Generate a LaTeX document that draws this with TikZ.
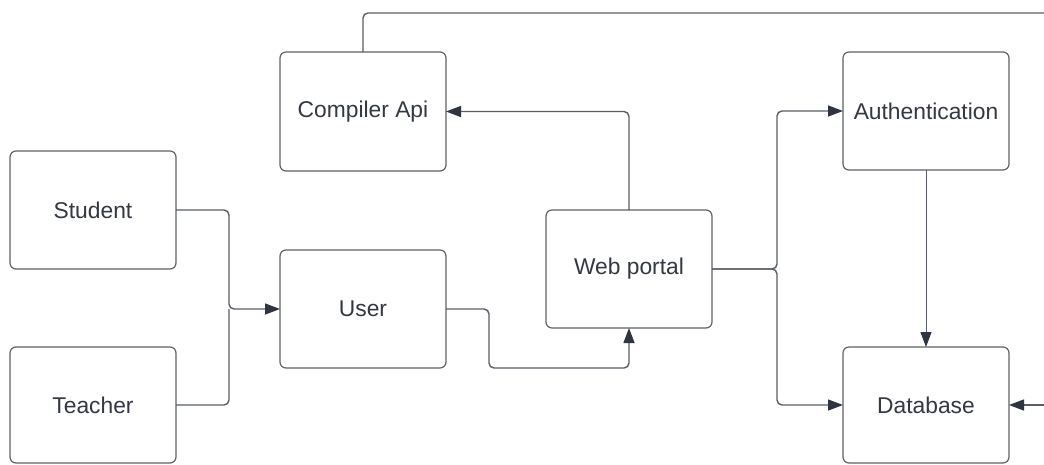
\documentclass[tikz,border=0pt]{standalone}
\usepackage{fontspec}
\setmainfont{Liberation Sans}
\usetikzlibrary{arrows.meta}
\definecolor{boxline}{HTML}{5F6368}
\definecolor{txt}{HTML}{333842}
\definecolor{conn}{HTML}{5A5E66}
\definecolor{tip}{HTML}{2E3440}
\begin{document}
\begin{tikzpicture}[x=1pt,y=-1pt,
  blk/.style={draw=boxline, line width=1.2pt, rounded corners=6pt, minimum width=166pt, minimum height=118pt, inner sep=0pt, outer sep=0pt, text=txt, font=\fontsize{22.8}{27}\selectfont, anchor=north west},
  conn/.style={draw=conn, line width=1.4pt, rounded corners=5pt},
  arr/.style={conn, -{Triangle[length=15pt,width=11pt,fill=tip,color=tip]}}]
\useasboundingbox (0,0) rectangle (1044,464);
\fill[white] (0,0) rectangle (1044,464);
\node[blk] (student) at (10,151) {Student};
\node[blk, minimum height=116pt] (teacher) at (10,347) {Teacher};
\node[blk] (user) at (280,250) {User};
\node[blk, minimum height=119pt] (compiler) at (280,52) {Compiler Api};
\node[blk] (web) at (546,210) {Web portal};
\node[blk] (auth) at (843,52) {Authentication};
\node[blk, minimum height=116pt] (db) at (843,347) {Database};
\coordinate (topend) at (1050,13);
\coordinate (dbin) at (1050,405);
% student/teacher -> user
\draw[arr] (student.east) -- (student.east -| 229,0) -- (user.west -| 229,0) -- (user.west);
\draw[conn] (teacher.east) -- (teacher.east -| 229,0) -- (user.west -| 229,0);
% user -> web portal
\draw[arr] (user.east) -- (user.east -| 489,0) -- (489,368) -- (web.south |- 0,368) -- (web.south);
% web -> compiler
\draw[arr] (web.north) -- (web.north |- compiler.east) -- (compiler.east);
% web -> auth, db
\draw[arr] (web.east) -- (web.east -| 777,0) -- (auth.west -| 777,0) -- (auth.west);
\draw[arr] (web.east) -- (web.east -| 777,0) -- (db.west -| 777,0) -- (db.west);
% auth -> db
\draw[arr, line width=1pt] (auth.south) -- (db.north);
% compiler top line
\draw[conn] (compiler.north) -- (compiler.north |- 0,13) -- (topend);
% incoming to db from right
\draw[arr] (dbin |- db.east) -- (db.east);
\end{tikzpicture}
\end{document}
